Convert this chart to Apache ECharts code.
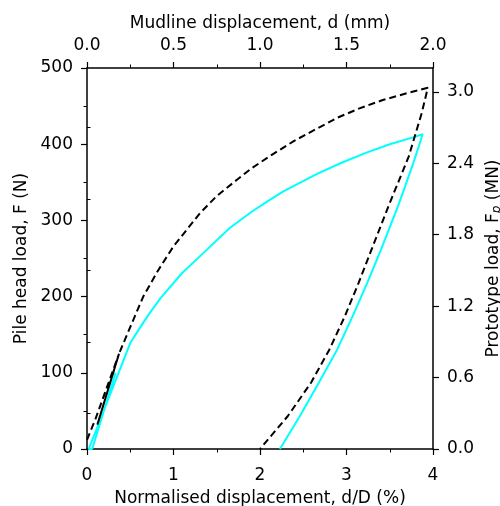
<!DOCTYPE html>
<html>
<head>
<meta charset="utf-8">
<script src="https://cdn.jsdelivr.net/npm/echarts@6/dist/echarts.min.js"></script>
<style>
  html, body { margin: 0; padding: 0; background: #fff; }
  #chart { width: 500px; height: 506px; }
</style>
</head>
<body>
<div id="chart"></div>
<script>
// dashed black test: normalised displacement (%) and pile head load (N)
const blackD = [0.00, 0.10, 0.37, 0.12, 0.37, 0.47, 0.65, 0.82, 1.00, 1.31, 1.50, 1.73, 1.91, 2.15, 2.39, 2.65, 2.90, 3.15, 3.42, 3.70, 3.94, 3.87, 3.72, 3.49, 3.29, 3.14, 2.98, 2.80, 2.59, 2.32, 2.00]
const blackF = [12, 40, 125, 32, 125, 152, 200, 234, 266, 310, 332, 353, 369, 387, 404, 420, 435, 447, 458, 467, 474, 441, 384, 320, 262, 218, 174, 130, 87, 43, 0]

// cyan test
const cyanD = [0.33, 0.06, 0.02, 0.50, 0.60, 0.71, 0.85, 1.10, 1.39, 1.65, 1.90, 2.10, 2.27, 2.66, 2.93, 3.23, 3.50, 3.77, 3.88, 3.83, 3.75, 3.60, 3.40, 3.24, 3.07, 2.89, 2.68, 2.46, 2.23]
const cyanF = [100, 0, 0, 139, 157, 176, 198, 231, 262, 290, 311, 326, 338, 361, 375, 389, 400, 409, 413, 395, 368, 320, 262, 218, 174, 130, 87, 43, 0]

// right axis (prototype load, MN)
const rightMax = 3.2
const rightMajor = [0, 0.6, 1.2, 1.8, 2.4, 3.0]
const rightMinor = [0.3, 0.9, 1.5, 2.1, 2.7]

const FONT = 'DejaVu Sans'
const FS = 17

const zip = (xs, ys) => xs.map((x, i) => [x, ys[i]])

const axisBase = {
  axisLine: { show: true, onZero: false, lineStyle: { color: '#000', width: 1.5 } },
  axisTick: { show: true, inside: false, length: 6, lineStyle: { color: '#000', width: 1.2 } },
  minorTick: { show: true, splitNumber: 2, length: 3.5, lineStyle: { color: '#000', width: 1 } },
  splitLine: { show: false },
  minorSplitLine: { show: false },
  axisLabel: { color: '#000', fontFamily: FONT, fontSize: FS, margin: 14 },
  nameLocation: 'middle',
  nameTextStyle: { color: '#000', fontFamily: FONT, fontSize: FS },
}

const chart = echarts.init(document.getElementById('chart'))

chart.setOption({
  animation: false,
  grid: { left: 87, right: 67, top: 68, bottom: 57, outerBoundsMode: 'none', containLabel: false },
  xAxis: [
    {
      ...axisBase,
      type: 'value',
      position: 'bottom',
      min: 0, max: 4, interval: 1,
      axisLabel: { ...axisBase.axisLabel, margin: 18 },
      name: 'Normalised displacement, d/D (%)',
      nameGap: 41,
    },
    {
      ...axisBase,
      type: 'value',
      position: 'top',
      min: 0, max: 2, interval: 0.5,
      axisLabel: { ...axisBase.axisLabel, formatter: (v) => v.toFixed(1) },
      name: 'Mudline displacement, d (mm)',
      nameGap: 36,
    },
  ],
  yAxis: [
    {
      ...axisBase,
      type: 'value',
      position: 'left',
      min: 0, max: 500, interval: 100,
      name: 'Pile head load, F (N)',
      nameGap: 55,
    },
    {
      ...axisBase,
      type: 'value',
      position: 'right',
      min: 0, max: rightMax,
      minorTick: { show: false },
      axisTick: { ...axisBase.axisTick, customValues: rightMajor },
      axisLabel: { ...axisBase.axisLabel, customValues: rightMajor, formatter: (v) => v.toFixed(1) },
      name: 'Prototype load, F{sub|p} (MN)',
      nameGap: 49,
      nameTextStyle: {
        ...axisBase.nameTextStyle,
        rich: {
          sub: { fontFamily: FONT, fontSize: 12, fontStyle: 'italic', padding: [6, 0, 0, 0], color: '#000' },
        },
      },
    },
    {
      type: 'value',
      position: 'right',
      min: 0, max: rightMax,
      axisLine: { show: false },
      axisLabel: { show: false },
      splitLine: { show: false },
      axisTick: { show: true, inside: false, length: 3.5, customValues: rightMinor, lineStyle: { color: '#000', width: 1 } },
    },
  ],
  series: [
    {
      type: 'line',
      xAxisIndex: 0, yAxisIndex: 0,
      data: zip(cyanD, cyanF),
      showSymbol: false,
      lineStyle: { color: '#00ffff', width: 2 },
    },
    {
      type: 'line',
      xAxisIndex: 0, yAxisIndex: 0,
      data: zip(blackD, blackF),
      showSymbol: false,
      lineStyle: { color: '#000', width: 2, type: [7, 4] },
    },
  ],
})
</script>
</body>
</html>
